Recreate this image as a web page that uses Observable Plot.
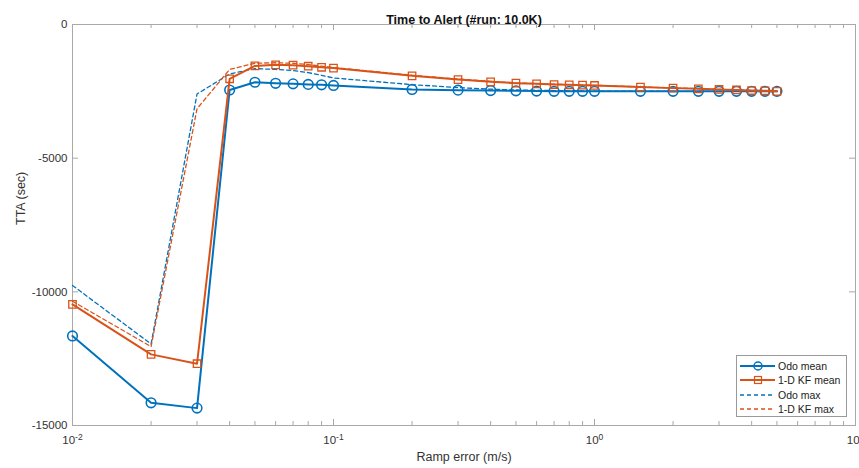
<!DOCTYPE html>
<html><head><meta charset="utf-8">
<script src="https://cdn.jsdelivr.net/npm/d3@7"></script>
<script src="https://cdn.jsdelivr.net/npm/@observablehq/plot@0.6"></script>
<style>
body{margin:0;background:#fff;}
#wrap{position:relative;width:859px;height:468px;overflow:hidden;font-family:"Liberation Sans",Arial,sans-serif;}
#legend{position:absolute;left:736px;top:355px;width:111px;height:62px;border:1px solid #9a9a9a;background:#fff;box-sizing:border-box;font-size:10.5px;color:#222;}
.row{position:absolute;left:2px;height:14px;display:flex;align-items:center;white-space:nowrap;}
.row svg{margin-right:3px;}
</style></head>
<body><div id="wrap"></div>
<script>
// ---- data ----
const rampError = [0.01,0.02,0.03,0.04,0.05,0.06,0.07,0.08,0.09,0.1,0.2,0.3,0.4,0.5,0.6,0.7,0.8,0.9,1,1.5,2,2.5,3,3.5,4,4.5,5];
const odoMean = [-11650,-14150,-14350,-2450,-2160,-2200,-2220,-2240,-2255,-2280,-2430,-2455,-2470,-2480,-2490,-2500,-2500,-2500,-2500,-2500,-2500,-2500,-2500,-2500,-2500,-2500,-2500];
const kfMean  = [-10470,-12340,-12690,-2030,-1550,-1510,-1520,-1560,-1600,-1630,-1920,-2060,-2145,-2195,-2220,-2245,-2255,-2270,-2280,-2340,-2380,-2405,-2430,-2450,-2470,-2480,-2500];
const odoMax  = [-9760,-11950,-2600,-1850,-1650,-1680,-1720,-1800,-1900,-2000,-2250,-2360,-2420,-2450,-2460,-2470,-2480,-2485,-2490,-2495,-2500,-2500,-2500,-2500,-2500,-2500,-2500];
const kfMax   = [-10350,-12050,-3150,-1680,-1450,-1430,-1450,-1500,-1560,-1610,-1900,-2040,-2130,-2185,-2210,-2235,-2250,-2265,-2275,-2335,-2375,-2400,-2425,-2445,-2465,-2475,-2495];
const seriesNames = ["Odo mean","1-D KF mean","Odo max","1-D KF max"];
const xMajorTicks = [0.01,0.1,1,10];
const xTickLabels = ["-2","-1","0","1"];
const yTicks = [-15000,-10000,-5000,0];
const titleText = "Time to Alert (#run: 10.0K)";
const xLabel = "Ramp error (m/s)";
const yLabel = "TTA (sec)";

const blue = "#0072BD", orange = "#D95319";
const xMinorTicks = [];
[0.01,0.1,1].forEach(d => { for (let k = 2; k <= 9; k++) xMinorTicks.push(d*k); });

const rows = (ys) => rampError.map((x,i) => ({x, y: ys[i]}));
const dOdoMean = rows(odoMean), dKfMean = rows(kfMean), dOdoMax = rows(odoMax), dKfMax = rows(kfMax);

const W = 859, H = 468, mL = 72, mR = 4, mT = 24, mB = 43;
const iw = W - mL - mR, ih = H - mT - mB;
const axisGray = "#a8a8a8";

const chart = Plot.plot({
  width: W, height: H,
  marginLeft: mL, marginRight: mR, marginTop: mT, marginBottom: mB,
  style: {fontFamily: '"Liberation Sans", Arial, sans-serif', fontSize: "11.5px", background: "#fff", color: "#333", overflow: "visible"},
  x: {type: "log", domain: [0.01, 10]},
  y: {domain: [-15000, 0]},
  marks: [
    Plot.frame({stroke: axisGray}),
    // inward ticks
    Plot.tickX(xMajorTicks, {x: d => d, insetTop: ih - 6, stroke: axisGray}),
    Plot.tickX(xMajorTicks, {x: d => d, insetBottom: ih - 6, stroke: axisGray}),
    Plot.tickX(xMinorTicks, {x: d => d, insetTop: ih - 4, stroke: axisGray}),
    Plot.tickX(xMinorTicks, {x: d => d, insetBottom: ih - 4, stroke: axisGray}),
    Plot.tickY(yTicks, {y: d => d, insetRight: iw - 6, stroke: axisGray}),
    Plot.tickY(yTicks, {y: d => d, insetLeft: iw - 6, stroke: axisGray}),
    Plot.axisX(xMajorTicks, {tickSize: 0, tickPadding: 10, label: null, tickFormat: (d) => xTickLabels[xMajorTicks.indexOf(d)], fill: "#333"}),
    Plot.axisY(yTicks, {tickSize: 0, tickPadding: 5, label: null, tickFormat: d => String(d), fill: "#333"}),
    // series
    Plot.line(dOdoMax, {x: "x", y: "y", stroke: blue, strokeWidth: 1.3, strokeDasharray: "4,3"}),
    Plot.line(dKfMax, {x: "x", y: "y", stroke: orange, strokeWidth: 1.3, strokeDasharray: "4,3"}),
    Plot.line(dOdoMean, {x: "x", y: "y", stroke: blue, strokeWidth: 2}),
    Plot.dot(dOdoMean, {x: "x", y: "y", stroke: blue, strokeWidth: 1.6, r: 4.8, fill: "none"}),
    Plot.line(dKfMean, {x: "x", y: "y", stroke: orange, strokeWidth: 2}),
    Plot.dot(dKfMean, {x: "x", y: "y", stroke: orange, strokeWidth: 1.3, r: 4.2, symbol: "square", fill: "none"}),
    // titles
    Plot.text([titleText], {frameAnchor: "top", dy: -9, fontWeight: "bold", fontSize: 12.5, fill: "#111"}),
    Plot.text([xLabel], {frameAnchor: "bottom", dy: 35, fontSize: 12.5, fill: "#333"}),
    Plot.text([yLabel], {frameAnchor: "left", dx: -52, rotate: -90, fontSize: 12.5, fill: "#333"})
  ]
});

// superscript exponents for log tick labels
chart.querySelectorAll('g[aria-label="x-axis tick label"] text').forEach(t => {
  const e = t.textContent;
  t.textContent = "";
  const ns = "http://www.w3.org/2000/svg";
  const a = document.createElementNS(ns, "tspan"); a.textContent = "10";
  const b = document.createElementNS(ns, "tspan"); b.textContent = e;
  b.setAttribute("dy", "-4"); b.setAttribute("font-size", "8.5");
  t.appendChild(a); t.appendChild(b);
});

const wrap = document.getElementById("wrap");
wrap.appendChild(chart);

// legend
const legend = document.createElement("div");
legend.id = "legend";
const styles = [
  {c: blue, dash: null, sym: "circle", w: 2},
  {c: orange, dash: null, sym: "square", w: 2},
  {c: blue, dash: "4,3", sym: null, w: 1.3},
  {c: orange, dash: "4,3", sym: null, w: 1.3}
];
seriesNames.forEach((name, i) => {
  const s = styles[i];
  const row = document.createElement("div");
  row.className = "row";
  row.style.top = (3 + i * 14.3) + "px";
  let sym = "";
  if (s.sym === "circle") sym = `<circle cx="19" cy="7" r="4" fill="none" stroke="${s.c}" stroke-width="1.5"/>`;
  if (s.sym === "square") sym = `<rect x="15.5" y="3.5" width="7" height="7" fill="none" stroke="${s.c}" stroke-width="1.2"/>`;
  row.innerHTML = `<svg width="36" height="14"><line x1="1" x2="36" y1="7" y2="7" stroke="${s.c}" stroke-width="${s.w}" ${s.dash ? `stroke-dasharray="${s.dash}"` : ""}/>${sym}</svg><span>${name}</span>`;
  legend.appendChild(row);
});
wrap.appendChild(legend);
</script>
</body></html>
